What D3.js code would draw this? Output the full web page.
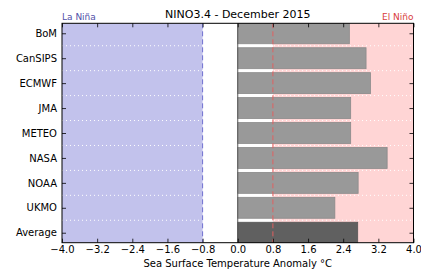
<!DOCTYPE html>
<html>
<head>
<meta charset="utf-8">
<script src="https://cdn.jsdelivr.net/npm/d3@7"></script>
<style>
  body { margin: 0; background: #fff; }
  svg { font-family: "DejaVu Sans", sans-serif; }
</style>
</head>
<body>
<svg id="chart" width="421" height="271"></svg>
<script>
// data
var models = ["BoM", "CanSIPS", "ECMWF", "JMA", "METEO", "NASA", "NOAA", "UKMO", "Average"];
var anomaly = [2.54, 2.92, 3.02, 2.57, 2.57, 3.40, 2.74, 2.21, 2.73];
var xTicks = [-4.0, -3.2, -2.4, -1.6, -0.8, 0.0, 0.8, 1.6, 2.4, 3.2, 4.0];
var laNina = -0.8, elNino = 0.8;

var svg = d3.select("#chart");
// plot box (note: "top" is reserved on window, so use p* names)
var pL = 62, pR = 413.5, pT = 23.3, pB = 242.7;

var x = d3.scaleLinear().domain([-4, 4]).range([pL, pR]);
var y = d3.scaleLinear().domain([-0.4, models.length - 0.6]).range([pT, pB]);

svg.append("clipPath").attr("id", "plotclip")
  .append("rect").attr("x", pL).attr("y", pT)
  .attr("width", pR - pL).attr("height", pB - pT);

var plot = svg.append("g").attr("clip-path", "url(#plotclip)");

// background zones
plot.append("rect")
  .attr("x", x(-4)).attr("y", pT)
  .attr("width", x(laNina) - x(-4)).attr("height", pB - pT)
  .attr("fill", "#c2c2ec");
plot.append("rect")
  .attr("x", x(elNino)).attr("y", pT)
  .attr("width", x(4) - x(elNino)).attr("height", pB - pT)
  .attr("fill", "#ffd5d5");

// dotted separators between rows
plot.selectAll(".sep")
  .data(d3.range(models.length - 1))
  .enter().append("line")
  .attr("x1", pL).attr("x2", pR)
  .attr("y1", function(d){ return y(d + 0.5); })
  .attr("y2", function(d){ return y(d + 0.5); })
  .attr("stroke", "#fff")
  .attr("stroke-width", 1)
  .attr("stroke-dasharray", "1,3");

// bars
plot.selectAll(".bar")
  .data(anomaly)
  .enter().append("rect")
  .attr("x", x(0))
  .attr("y", function(d, i){ return y(i - 0.42); })
  .attr("width", function(d){ return x(d) - x(0); })
  .attr("height", y(0.84) - y(0))
  .attr("fill", function(d, i){ return models[i] == "Average" ? "#606060" : "#999999"; })
  .attr("stroke", function(d, i){ return models[i] == "Average" ? "#555" : "#8a8a8a"; })
  .attr("stroke-width", 0.8);

// zero line
plot.append("line")
  .attr("x1", x(0)).attr("x2", x(0)).attr("y1", pT).attr("y2", pB)
  .attr("stroke", "#555").attr("stroke-width", 1);

// threshold lines
plot.append("line")
  .attr("x1", x(laNina)).attr("x2", x(laNina)).attr("y1", pT).attr("y2", pB)
  .attr("stroke", "#7070d0").attr("stroke-width", 1).attr("stroke-dasharray", "5,3");
plot.append("line")
  .attr("x1", x(elNino)).attr("x2", x(elNino)).attr("y1", pT).attr("y2", pB)
  .attr("stroke", "#e06060").attr("stroke-width", 1).attr("stroke-dasharray", "5,3");

// axes, ticks inward
var fmt = function(d){ return d3.format(".1f")(d).replace("-", "\u2212"); };
var xb = svg.append("g").attr("transform", "translate(0," + pB + ")")
  .call(d3.axisBottom(x).tickValues(xTicks).tickFormat(fmt).tickSizeInner(-4).tickSizeOuter(0).tickPadding(3));
var xt = svg.append("g").attr("transform", "translate(0," + pT + ")")
  .call(d3.axisTop(x).tickValues(xTicks).tickFormat("").tickSizeInner(-4).tickSizeOuter(0));
var yl = svg.append("g").attr("transform", "translate(" + pL + ",0)")
  .call(d3.axisLeft(y).tickValues(d3.range(models.length)).tickFormat(function(d){ return models[d]; })
    .tickSizeInner(-4).tickSizeOuter(0).tickPadding(5));
var yr = svg.append("g").attr("transform", "translate(" + pR + ",0)")
  .call(d3.axisRight(y).tickValues(d3.range(models.length)).tickFormat("").tickSizeInner(-4).tickSizeOuter(0));

[xb, xt, yl, yr].forEach(function(g){
  g.select(".domain").remove();
  g.selectAll("line").attr("stroke", "#000").attr("stroke-width", 0.8);
  g.selectAll("text").attr("fill", "#000").style("font-size", "10px").style("font-family", "DejaVu Sans");
});

svg.append("rect")
  .attr("x", pL).attr("y", pT)
  .attr("width", pR - pL).attr("height", pB - pT)
  .attr("fill", "none").attr("stroke", "#000").attr("stroke-width", 1);

// texts
svg.append("text").attr("x", (pL + pR) / 2).attr("y", 18)
  .attr("text-anchor", "middle").style("font-size", "11px").text("NINO3.4 - December 2015");
svg.append("text").attr("x", pL).attr("y", 20)
  .style("font-size", "9px").attr("fill", "#5050a8").text("La Niña");
svg.append("text").attr("x", pR).attr("y", 20)
  .attr("text-anchor", "end").style("font-size", "9px").attr("fill", "#d83c3c").text("El Niño");
svg.append("text").attr("x", (pL + pR) / 2).attr("y", 267)
  .attr("text-anchor", "middle").style("font-size", "10px").text("Sea Surface Temperature Anomaly °C");
</script>
</body>
</html>
